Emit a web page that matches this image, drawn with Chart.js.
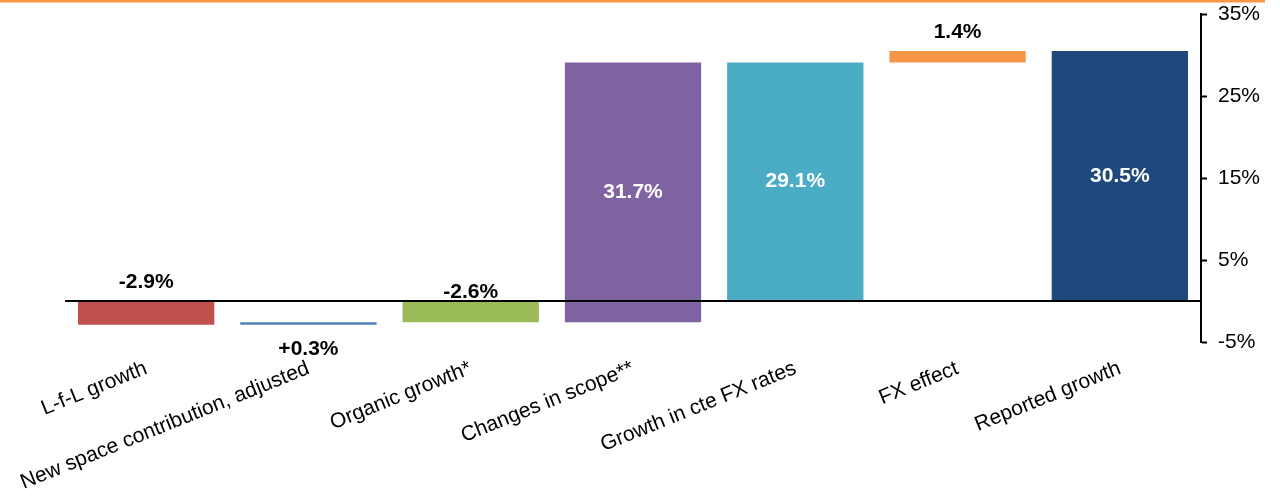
<!DOCTYPE html>
<html>
<head>
<meta charset="utf-8">
<script src="https://cdn.jsdelivr.net/npm/chart.js@4/dist/chart.umd.min.js"></script>
<style>
  html, body { margin: 0; padding: 0; background: #fff; }
  #wrap { position: relative; width: 1280px; height: 500px; }
</style>
</head>
<body>
<div id="wrap"><canvas id="bridge"></canvas></div>
<script>
// growth bridge, in percentage points
const categories = [
  'L-f-L growth',
  'New space contribution, adjusted',
  'Organic growth*',
  'Changes in scope**',
  'Growth in cte FX rates',
  'FX effect',
  'Reported growth'
];
const values = [-2.9, 0.3, -2.6, 31.7, 29.1, 1.4, 30.5];
// subtotal bars start from zero, the others float on the running total
const isTotal = [false, false, true, false, true, false, true];
const valueLabels = ['-2.9%', '+0.3%', '-2.6%', '31.7%', '29.1%', '1.4%', '30.5%'];
const yTicks = [-5, 5, 15, 25, 35];

const colors = ['#c0504d', '#4f81bd', '#9bbb59', '#8064a2', '#4bacc6', '#f79646', '#1f497d'];
// where each value label sits: above / below / inside, with a small pixel nudge
const labelPlace = ['above', 'below', 'above', 'inside', 'inside', 'above', 'inside'];
const labelNudge = [0, 0, 10, 0, 0, 0, 0];

const FONT = '"Liberation Sans", Arial, Helvetica, sans-serif';

let running = 0;
const ranges = values.map((v, i) => {
  if (isTotal[i]) {
    running = v;
    return [0, v];
  }
  const r = [running, running + v];
  running += v;
  return r;
});

const bridgeDecor = {
  id: 'bridgeDecor',
  beforeDraw(chart) {
    const ctx = chart.ctx;
    ctx.save();
    ctx.fillStyle = '#f79646';
    ctx.fillRect(0, 0, 1265, 2.5);
    ctx.restore();
  },
  afterDatasetsDraw(chart) {
    const ctx = chart.ctx;
    const area = chart.chartArea;
    const y0 = chart.scales.y.getPixelForValue(0);
    ctx.save();
    ctx.strokeStyle = '#000';
    ctx.lineWidth = 2;
    ctx.beginPath();
    ctx.moveTo(area.left, y0);
    ctx.lineTo(area.right, y0);
    ctx.stroke();

    ctx.font = 'bold 21px ' + FONT;
    ctx.textAlign = 'center';
    chart.getDatasetMeta(0).data.forEach((bar, i) => {
      const top = Math.min(bar.y, bar.base);
      const bottom = Math.max(bar.y, bar.base);
      let y;
      if (labelPlace[i] === 'inside') {
        ctx.fillStyle = '#fff';
        ctx.textBaseline = 'middle';
        y = (top + bottom) / 2;
      } else if (labelPlace[i] === 'above') {
        ctx.fillStyle = '#000';
        ctx.textBaseline = 'bottom';
        y = top - 8 + labelNudge[i];
      } else {
        ctx.fillStyle = '#000';
        ctx.textBaseline = 'top';
        y = bottom + 14 + labelNudge[i];
      }
      ctx.fillText(valueLabels[i], bar.x, y);
    });
    ctx.restore();
  }
};

new Chart(document.getElementById('bridge'), {
  type: 'bar',
  data: {
    labels: categories,
    datasets: [{
      data: ranges,
      backgroundColor: colors,
      borderWidth: 0,
      barPercentage: 0.84,
      categoryPercentage: 1.0
    }]
  },
  options: {
    responsive: true,
    maintainAspectRatio: false,
    animation: false,
    layout: { padding: { left: 65, top: 14, right: 0, bottom: 0 } },
    plugins: {
      legend: { display: false },
      tooltip: { enabled: false }
    },
    scales: {
      x: {
        grid: { display: false, drawTicks: false },
        border: { display: false },
        ticks: {
          color: '#000',
          font: { family: FONT, size: 21 },
          minRotation: 22,
          maxRotation: 22,
          autoSkip: false,
          padding: 14
        },
        afterFit(scale) {
          scale.height = 158;
          scale.paddingLeft = 0;
          scale.paddingRight = 0;
        }
      },
      y: {
        position: 'right',
        min: -5,
        max: 35,
        afterBuildTicks(scale) {
          scale.ticks = yTicks.map(v => ({ value: v }));
        },
        grid: {
          drawOnChartArea: false,
          drawTicks: true,
          tickLength: 6,
          tickColor: '#000',
          tickWidth: 2
        },
        border: { display: true, color: '#000', width: 2 },
        ticks: {
          color: '#000',
          font: { family: FONT, size: 21 },
          padding: 11,
          callback: v => v + '%'
        },
        afterFit(scale) {
          scale.width = 79;
          scale.paddingTop = 0;
          scale.paddingBottom = 0;
        }
      }
    }
  },
  plugins: [bridgeDecor]
});
</script>
</body>
</html>
